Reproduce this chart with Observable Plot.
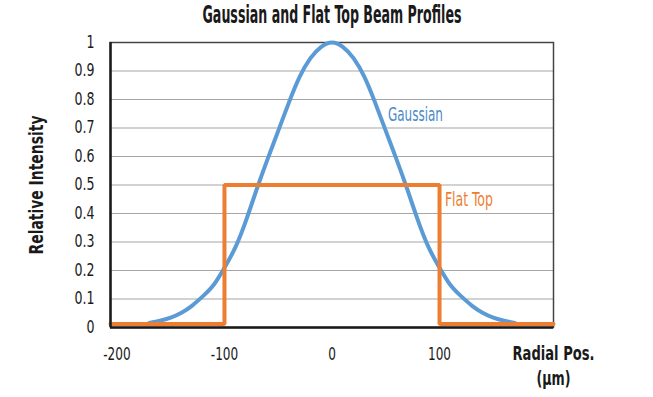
<!DOCTYPE html>
<html><head><meta charset="utf-8">
<script src="https://cdn.jsdelivr.net/npm/d3@7"></script>
<script src="https://cdn.jsdelivr.net/npm/@observablehq/plot@0.6"></script>
<style>
html,body{margin:0;padding:0;background:#fff;}
#chart svg{font-family:"DejaVu Sans Condensed","DejaVu Sans",sans-serif;}
</style></head><body><div id="chart"></div>
<script>
// Data
const gaussX = [-170,-160,-150,-140,-130,-120,-110,-100,-90,-80,-70,-60,-50,-40,-30,-20,-10,0,10,20,30,40,50,60,70,80,90,100,110,120,130,140,150,160,170];
const gaussY = [0.016,0.024,0.035,0.052,0.077,0.11,0.15,0.21,0.28,0.375,0.485,0.59,0.69,0.79,0.88,0.945,0.985,1.0,0.985,0.945,0.88,0.79,0.69,0.59,0.485,0.375,0.28,0.21,0.15,0.11,0.077,0.052,0.035,0.024,0.016];
const flatX = [-206,-100,-100,100,100,206];
const flatY = [0.012,0.012,0.5,0.5,0.012,0.012];
const yTicks = [0,0.1,0.2,0.3,0.4,0.5,0.6,0.7,0.8,0.9,1];
const yTickLabels = ["0","0.1","0.2","0.3","0.4","0.5","0.6","0.7","0.8","0.9","1"];
const gridY = [0.1,0.2,0.3,0.4,0.5,0.6,0.7,0.8,0.9];
const xTicks = [-200,-100,0,100];
const xTickLabels = ["-200","-100","0","100"];
const titleText = "Gaussian and Flat Top Beam Profiles";
const yLabel = "Relative Intensity";
const xLabel = ["Radial Pos.","(µm)"];
const seriesNames = ["Gaussian","Flat Top"];

const blue = "#5b9bd5", orange = "#ed7d31";
const gauss = gaussX.map((x,i)=>({x, y: gaussY[i]}));
const flat = flatX.map((x,i)=>({x, y: flatY[i]}));
const fmtY = d => yTickLabels[yTicks.indexOf(d)];
const fmtX = d => xTickLabels[xTicks.indexOf(d)];

const chart = Plot.plot({
  width: 653, height: 397,
  marginLeft: 110, marginRight: 100, marginTop: 42, marginBottom: 70,
  x: {domain: [-206, 206]},
  y: {domain: [0, 1]},
  style: {background: "#fff", color: "#222"},
  marks: [
    Plot.ruleY(gridY, {stroke: "#a6a6a6", strokeWidth: 1.2}),
    Plot.frame({stroke: "#444", strokeWidth: 1.5}),
    Plot.axisY(yTicks, {tickSize: 0, tickPadding: 16, tickFormat: fmtY, fontSize: 17, fill: "#1a1a1a", label: null}),
    Plot.axisX(xTicks, {tickSize: 0, tickPadding: 20, tickFormat: fmtX, fontSize: 17, fill: "#1a1a1a", label: null}),
    Plot.line(gauss, {x: "x", y: "y", stroke: blue, strokeWidth: 4, curve: "natural"}),
    Plot.line(flat, {x: "x", y: "y", stroke: orange, strokeWidth: 4, strokeLinejoin: "miter"}),
    Plot.ruleX([-206], {stroke: "#1a1a1a", strokeWidth: 2.5}),
    Plot.ruleY([0], {stroke: "#1a1a1a", strokeWidth: 2.5}),
    Plot.text([seriesNames[0]], {x: 52, y: 0.745, text: d => d, fill: "#4a8ac8", fontSize: 19, textAnchor: "start", className: "lbl-gauss"}),
    Plot.text([seriesNames[1]], {x: 105, y: 0.447, text: d => d, fill: orange, fontSize: 19, textAnchor: "start", className: "lbl-flat"}),
    Plot.text([titleText], {frameAnchor: "top", dy: -27, lineAnchor: "middle", textAnchor: "middle", text: d => d, fontSize: 24, fontWeight: "bold", fill: "#1a1a1a", className: "lbl-title"}),
    Plot.text([yLabel], {frameAnchor: "left", dx: -74, rotate: -90, lineAnchor: "middle", textAnchor: "middle", text: d => d, fontSize: 19, fontWeight: "bold", fill: "#1a1a1a", className: "lbl-y"}),
    Plot.text([xLabel[0]], {frameAnchor: "bottom-right", dy: 26, lineAnchor: "middle", textAnchor: "middle", text: d => d, fontSize: 19, fontWeight: "bold", fill: "#1a1a1a", className: "lbl-x1"}),
    Plot.text([xLabel[1]], {frameAnchor: "bottom-right", dy: 51, lineAnchor: "middle", textAnchor: "middle", text: d => d, fontSize: 19, fontWeight: "bold", fill: "#1a1a1a", className: "lbl-x2"})
  ]
});
document.getElementById("chart").appendChild(chart);

// Compress text horizontally to mimic the condensed font of the original
function squeeze(nodes, refText, refWidth) {
  nodes = Array.from(nodes);
  const ref = nodes.find(n => n.textContent === refText) || nodes[0];
  if (!ref) return;
  const f = refWidth / ref.getComputedTextLength();
  nodes.forEach(n => {
    n.setAttribute("textLength", (n.getComputedTextLength() * f).toFixed(1));
    n.setAttribute("lengthAdjust", "spacingAndGlyphs");
  });
}
squeeze(chart.querySelectorAll('g[aria-label="y-axis tick label"] text'), "0.9", 20);
squeeze(chart.querySelectorAll('g[aria-label="x-axis tick label"] text'), "100", 23);
squeeze(chart.querySelectorAll('.lbl-title text'), titleText, 259);
squeeze(chart.querySelectorAll('.lbl-y text'), yLabel, 139);
squeeze(chart.querySelectorAll('.lbl-x1 text'), xLabel[0], 82);
squeeze(chart.querySelectorAll('.lbl-x2 text'), xLabel[1], 34);
squeeze(chart.querySelectorAll('.lbl-gauss text'), seriesNames[0], 55);
squeeze(chart.querySelectorAll('.lbl-flat text'), seriesNames[1], 48);
</script></body></html>
